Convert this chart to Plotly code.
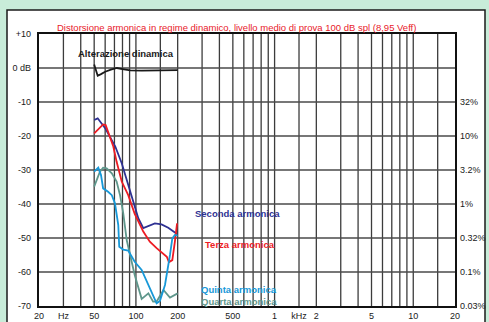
import plotly.graph_objects as go

# ---- data ----
f_alt = [50, 53, 56, 60, 66, 73, 80, 91, 110, 130, 160, 200]
db_alt = [1.0, -2.3, -1.8, -1.1, -0.5, 0.0, -0.3, -0.7, -0.8, -0.8, -0.7, -0.6]

f_sec = [50, 53, 60, 71, 79, 88, 98, 104, 113, 123, 137, 153, 171, 198]
db_sec = [-15.3, -14.8, -17.7, -23.1, -28.0, -34.4, -41.2, -44.2, -47.1, -46.5, -45.7, -46.0, -47.0, -48.8]

f_ter = [50, 55, 58, 60.5, 65, 68.7, 72.6, 79, 88, 98, 113, 126, 141, 158, 167, 173, 183, 191, 198]
db_ter = [-19.2, -17.7, -16.6, -16.8, -20.7, -23.1, -27.6, -33.4, -37.4, -42.9, -48.1, -51.1, -53.0, -54.5, -55.5, -57.1, -56.5, -51.1, -45.7]

f_qui = [50, 53.5, 56, 58, 63, 67, 70.6, 72.6, 74.6, 75.8, 81, 88, 98, 110, 123, 133, 141, 149, 162, 176, 183, 191, 200]
db_qui = [-30.5, -29.3, -31.5, -35.4, -36.4, -37.4, -39.8, -43.2, -46.2, -52.6, -53.4, -53.7, -57.0, -59.4, -63.8, -66.8, -69.2, -68.5, -63.8, -55.0, -50.1, -49.1, -49.3]

f_qua = [50, 55, 58, 61.5, 67, 72.6, 76.8, 81, 85.8, 90.6, 98, 110, 123, 133, 141, 158, 176, 200]
db_qua = [-34.9, -30.5, -29.3, -29.5, -31.0, -33.4, -37.4, -42.7, -50.6, -55.0, -60.9, -67.9, -66.3, -68.7, -68.7, -65.3, -67.5, -66.3]

x_tickvals = [20, 30, 50, 100, 200, 500, 1000, 1500, 2000, 5000, 10000, 20000]
x_ticktext = ["20", "Hz", "50", "100", "200", "500", "1", "kHz", "2", "5", "10", "20"]
x_grid = [30, 40, 50, 60, 70, 80, 90, 100, 150, 200, 300, 400, 500, 600, 700, 800, 900,
          1000, 1500, 2000, 3000, 4000, 5000, 6000, 7000, 8000, 9000, 10000, 15000]

y_tickvals = [-70, -60, -50, -40, -30, -20, -10, 0, 10]
y_ticktext = ["-70", "-60", "-50", "-40", "-30", "-20", "-10", "0 dB", "+10"]
y2_tickvals = [-70, -60, -50, -40, -30, -20, -10]
y2_ticktext = ["0.03%", "0.1%", "0.32%", "1%", "3.2%", "10%", "32%"]

title_text = "Distorsione armonica in regime dinamico, livello medio di prova 100 dB spl (8,95 Veff)"

# ---- figure ----
W, H = 489, 322
L, R, T, B = 39, 455, 34, 306
FONT = "Liberation Sans, Arial, sans-serif"
BG = "#c8ecd9"

fig = go.Figure()
series = [
    (f_alt, db_alt, "#1a1a1a"),
    (f_sec, db_sec, "#2e3192"),
    (f_ter, db_ter, "#ed1c24"),
    (f_qua, db_qua, "#5f978c"),
    (f_qui, db_qui, "#1798d8"),
]
for fx, fy, col in series:
    fig.add_trace(go.Scatter(x=fx, y=fy, mode="lines", line=dict(color=col, width=1.8),
                             showlegend=False, hoverinfo="skip"))
# invisible trace for right axis
fig.add_trace(go.Scatter(x=[20, 20000], y=[-70, 10], yaxis="y2", mode="markers",
                         marker=dict(opacity=0), showlegend=False, hoverinfo="skip"))

shapes = []
# white panel
shapes.append(dict(type="rect", xref="paper", yref="paper",
                   x0=(7 - L) / (R - L), x1=(485 - L) / (R - L),
                   y0=(B - 330) / (B - T), y1=(B - 10) / (B - T),
                   fillcolor="white", line=dict(color="#1a1a1a", width=1.5), layer="below"))
for g in x_grid:
    shapes.append(dict(type="line", xref="x", yref="paper", x0=g, x1=g, y0=0, y1=1,
                       line=dict(color="#3c3c3c", width=1.3), layer="below"))
for v in [-60, -50, -40, -30, -20, -10, 0]:
    shapes.append(dict(type="line", xref="paper", yref="y", x0=0, x1=1, y0=v, y1=v,
                       line=dict(color="#4a4a4a", width=1.4), layer="below"))


def px(x):
    return (x - L) / (R - L)


def py(y):
    return (B - y) / (B - T)


annotations = [
    dict(text=title_text, x=px(236), y=py(27), color="#e8202a", size=9.5, bold=False),
    dict(text="Alterazione dinamica", x=px(126), y=py(54), color="#1a1a1a", size=9.5, bold=True),
    dict(text="Seconda armonica", x=px(237.5), y=py(213), color="#2e3192", size=9.5, bold=True),
    dict(text="Terza armonica", x=px(239.5), y=py(244), color="#ed1c24", size=9.5, bold=True),
    dict(text="Quinta armonica", x=px(239), y=py(289), color="#1798d8", size=9.5, bold=True),
    dict(text="Quarta armonica", x=px(239), y=py(301), color="#5f978c", size=9.5, bold=True),
]
ann = []
for a in annotations:
    t = "<b>%s</b>" % a["text"] if a["bold"] else a["text"]
    ann.append(dict(text=t, x=a["x"], y=a["y"], xref="paper", yref="paper",
                    showarrow=False, xanchor="center", yanchor="middle",
                    font=dict(family=FONT, size=a["size"], color=a["color"])))

tickfont = dict(family=FONT, size=9, color="#1a1a1a")
fig.update_layout(
    width=W, height=H,
    margin=dict(l=L, r=W - R, t=T, b=H - B, autoexpand=False),
    paper_bgcolor=BG,
    plot_bgcolor="rgba(0,0,0,0)",
    shapes=shapes,
    annotations=ann,
    xaxis=dict(type="log", range=[1.30103, 4.30103], tickvals=x_tickvals, ticktext=x_ticktext,
               showgrid=False, zeroline=False, showline=True, linecolor="#111", linewidth=2.2,
               mirror=True, ticks="", tickfont=tickfont, ticklabelstandoff=0, automargin=False),
    yaxis=dict(range=[-70, 10], tickvals=y_tickvals, ticktext=y_ticktext, showgrid=False,
               zeroline=False, showline=True, linecolor="#111", linewidth=2.2, mirror=True,
               ticks="", tickfont=tickfont, ticklabelstandoff=4, automargin=False),
    yaxis2=dict(range=[-70, 10], overlaying="y", side="right", tickvals=y2_tickvals,
                ticktext=y2_ticktext, showgrid=False, zeroline=False, showline=False,
                ticks="", tickfont=tickfont, ticklabelstandoff=4, automargin=False),
)

fig.write_html("out.html", config={"displayModeBar": False},
               post_script="document.body.style.margin='0';document.body.style.background='%s';" % BG)
